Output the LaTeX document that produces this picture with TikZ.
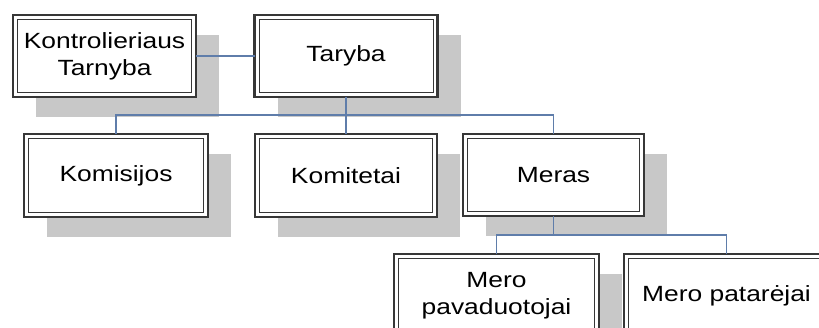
\documentclass[tikz,border=0pt]{standalone}
\usepackage{fontspec}
\setmainfont{Liberation Sans}[FakeStretch=1.2]
\usetikzlibrary{shadows}
\definecolor{linkblue}{RGB}{95,125,170}
\definecolor{shadowgray}{RGB}{200,200,200}
\definecolor{boxline}{RGB}{55,55,55}

\begin{document}
\begin{tikzpicture}[x=1pt, y=-1pt,
  every node/.style={outer sep=0pt, align=center, font=\fontsize{22}{27}\selectfont},
  unit/.style={draw=boxline, line width=2.2pt, fill=white, minimum width=183pt, minimum height=82pt,
    path picture={\draw[boxline, line width=0.8pt] ([shift={(4.5pt,-4.5pt)}]path picture bounding box.north west) rectangle ([shift={(-4.5pt,4.5pt)}]path picture bounding box.south east);},
    drop shadow={shadow xshift=23pt, shadow yshift=-20pt, fill=shadowgray, opacity=1}},
  link/.style={draw=linkblue, line width=1.3pt}]
\useasboundingbox (0,0) rectangle (819,327);
\clip (0,0) rectangle (819,327);

\node[unit] (kontrol) at (104.5,56) {Kontrolieriaus\\Tarnyba};
\node[unit] (taryba) at (346,56) {Taryba};
\node[unit, minimum width=184pt, minimum height=83pt] (komisijos) at (116,175.5) {Komisijos};
\node[unit, minimum width=182pt, minimum height=83pt] (komitetai) at (346,175.5) {Komitetai};
\node[unit, minimum width=181pt] (meras) at (553.5,175) {Meras};
\node[unit, minimum width=205pt, minimum height=83pt] (pavaduotojai) at (496.5,295.5) {Mero\\pavaduotojai};
\node[unit, minimum width=205pt, minimum height=83pt] (patarejai) at (726.5,295.5) {Mero patarėjai};

\coordinate (bus1) at (346,115);
\coordinate (bus2) at (553.5,235);

\draw[link] (kontrol) -- (taryba);
\draw[link] (taryba) -- (komitetai);
\draw[link] (komisijos) |- (bus1) -| (meras);
\draw[link] (meras) -- (bus2);
\draw[link] (pavaduotojai) |- (bus2) -| (patarejai);
\end{tikzpicture}
\end{document}
